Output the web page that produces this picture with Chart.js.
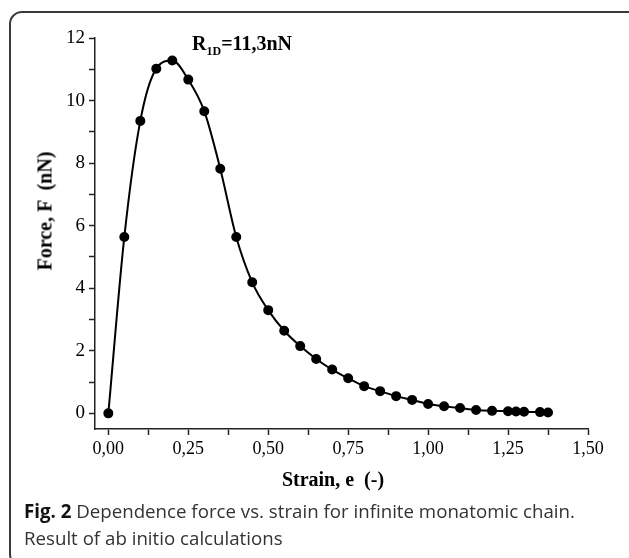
<!DOCTYPE html>
<html>
<head>
<meta charset="utf-8">
<script src="https://cdn.jsdelivr.net/npm/chart.js@4"></script>
<style>
  html, body { margin: 0; padding: 0; background: #fff; }
  body { width: 629px; height: 558px; position: relative; overflow: hidden; }
  #chart { position: absolute; left: 0; top: 0; }
  .frame {
    position: absolute; left: 9px; top: 11px; width: 628px; height: 552px;
    border: 2px solid #3a3a3a; border-radius: 13px;
  }
  .serif { font-family: "Liberation Serif", "DejaVu Serif", serif; font-weight: bold; color: #000; position: absolute; white-space: pre; }
  #ytitle { left: 45px; top: 211px; font-size: 20px; transform: translate(-50%, -50%) rotate(-90deg); }
  #xtitle { left: 333px; top: 479px; font-size: 20px; transform: translate(-50%, -50%); }
  #note { left: 192px; top: 33px; font-size: 20px; line-height: 20px; }
  #note sub { font-size: 12px; vertical-align: -5px; }
  #caption {
    position: absolute; left: 24px; top: 497px; font-family: "Open Sans", "Noto Sans", sans-serif;
    font-size: 18.7px; line-height: 27px; color: #333; white-space: nowrap;
  }
  #caption b { color: #111; }
</style>
</head>
<body>
<div class="frame"></div>
<canvas id="chart" width="629" height="558"></canvas>
<div class="serif" id="ytitle">Force, F  (nN)</div>
<div class="serif" id="xtitle">Strain, e  (-)</div>
<div class="serif" id="note">R<sub>1D</sub>=11,3nN</div>
<div id="caption"><b>Fig. 2</b> Dependence force vs. strain for infinite monatomic chain.<br>Result of ab initio calculations</div>

<script>
// strain (-) and force (nN)
const strain = [0, 0.05, 0.10, 0.15, 0.20, 0.25, 0.30, 0.35, 0.40, 0.45, 0.50, 0.55, 0.60, 0.65, 0.70,
                0.75, 0.80, 0.85, 0.90, 0.95, 1.00, 1.05, 1.10, 1.15, 1.20, 1.25, 1.275, 1.30, 1.35, 1.375];
const force = [0, 5.64, 9.35, 11.02, 11.28, 10.67, 9.66, 7.82, 5.64, 4.19, 3.30, 2.64, 2.15, 1.74, 1.40,
               1.12, 0.87, 0.71, 0.55, 0.43, 0.30, 0.23, 0.17, 0.11, 0.08, 0.07, 0.06, 0.05, 0.04, 0.03];

const xTicks = [0, 0.125, 0.25, 0.375, 0.5, 0.625, 0.75, 0.875, 1, 1.125, 1.25, 1.375, 1.5];
const yTicks = [0, 1, 2, 3, 4, 5, 6, 7, 8, 9, 10, 11, 12];

const serif = '"Liberation Serif", "DejaVu Serif", serif';

const points = strain.map((s, i) => ({ x: s, y: force[i] }));

new Chart(document.getElementById('chart'), {
    type: 'scatter',
    data: {
        datasets: [{
            data: points,
            showLine: true,
            borderColor: '#000',
            backgroundColor: '#000',
            borderWidth: 2,
            pointRadius: 4,
            pointHoverRadius: 4,
            cubicInterpolationMode: 'monotone',
            clip: false
        }]
    },
    options: {
        responsive: false,
        animation: false,
        events: [],
        layout: { padding: { left: 0, top: 38, right: 41, bottom: 89 } },
        plugins: { legend: { display: false }, tooltip: { enabled: false } },
        scales: {
            x: {
                type: 'linear',
                min: -0.0417,
                max: 1.5,
                afterBuildTicks: scale => { scale.ticks = xTicks.map(v => ({ value: v })); },
                afterFit: scale => { scale.height = 40; },
                grid: { drawOnChartArea: false, tickLength: 6, tickColor: '#222', tickWidth: 1.5 },
                border: { color: '#222', width: 1.5 },
                ticks: {
                    color: '#000',
                    font: { family: serif, size: 18 },
                    padding: 3,
                    maxRotation: 0,
                    autoSkip: false,
                    callback: v => (Math.abs(v * 4 - Math.round(v * 4)) < 1e-6 ? v.toFixed(2).replace('.', ',') : '')
                }
            },
            y: {
                type: 'linear',
                min: -0.5,
                max: 12,
                afterBuildTicks: scale => { scale.ticks = yTicks.map(v => ({ value: v })); },
                afterFit: scale => { scale.width = 95; },
                grid: { drawOnChartArea: false, tickLength: 6, tickColor: '#222', tickWidth: 1.5 },
                border: { color: '#222', width: 1.5 },
                ticks: {
                    color: '#000',
                    font: { family: serif, size: 19 },
                    padding: 4,
                    autoSkip: false,
                    callback: v => (v % 2 === 0 ? String(v) : '')
                }
            }
        }
    }
});
</script>
</body>
</html>
